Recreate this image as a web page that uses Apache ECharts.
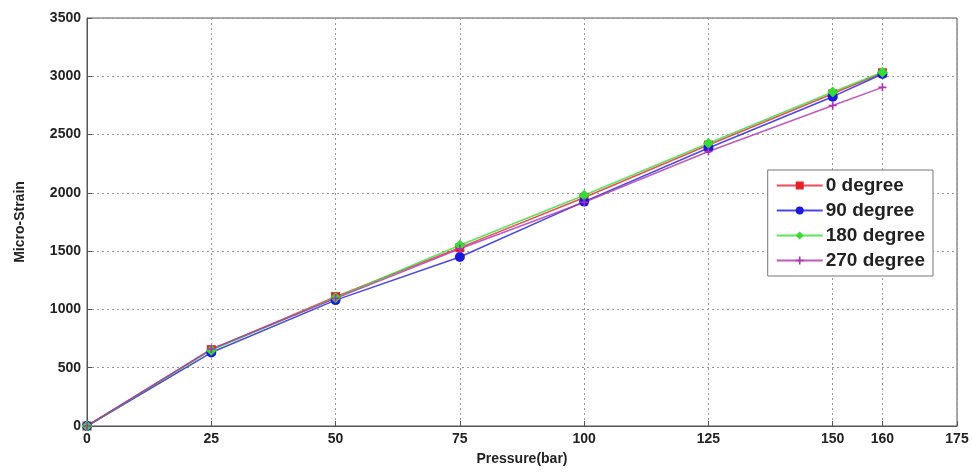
<!DOCTYPE html>
<html>
<head>
<meta charset="utf-8">
<script src="https://cdn.jsdelivr.net/npm/echarts@6/dist/echarts.min.js"></script>
<style>
  html, body { margin: 0; padding: 0; background: #fff; }
  #chart { width: 972px; height: 472px; }
</style>
</head>
<body>
<div id="chart"></div>
<script>
const pressure = [0, 25, 50, 75, 100, 125, 150, 160];
const deg0 = [0, 655, 1110, 1530, 1960, 2410, 2850, 3030];
const deg90 = [0, 630, 1080, 1450, 1925, 2385, 2825, 3020];
const deg180 = [0, 650, 1100, 1550, 1980, 2425, 2865, 3035];
const deg270 = [0, 660, 1095, 1520, 1920, 2355, 2750, 2905];
const xTicks = [0, 25, 50, 75, 100, 125, 150, 160, 175];
const yTicks = [0, 500, 1000, 1500, 2000, 2500, 3000, 3500];

const pairs = arr => pressure.map((p, i) => [p, arr[i]]);

const chart = echarts.init(document.getElementById('chart'));
const labelStyle = { color: '#222', fontSize: 14, fontWeight: 'bold', fontFamily: 'Liberation Sans, Arial' };
const mk = (name, data, color, symbol, size) => ({
  name: name,
  type: 'line',
  data: pairs(data),
  symbol: symbol,
  symbolSize: size,
  lineStyle: { color: color, width: 1.5, opacity: 0.8 },
  itemStyle: { color: color },
  z: 3
});

chart.setOption({
  animation: false,
  grid: { left: 87, right: 15, top: 18, bottom: 46, show: true, borderColor: '#555', borderWidth: 1 },
  legend: {
    orient: 'vertical',
    right: 39,
    top: 170,
    itemGap: 6,
    itemWidth: 46,
    itemHeight: 10,
    backgroundColor: '#fff',
    borderColor: '#777',
    borderWidth: 1,
    padding: [6, 8, 6, 8],
    textStyle: { color: '#222', fontSize: 19, fontWeight: 'bold', fontFamily: 'Liberation Sans, Arial', padding: [0, 0, 0, -2] },
    data: ['0 degree', '90 degree', '180 degree', '270 degree']
  },
  xAxis: {
    type: 'value',
    min: 0,
    max: 175,
    name: 'Pressure(bar)',
    nameLocation: 'middle',
    nameGap: 26,
    nameTextStyle: labelStyle,
    axisLine: { lineStyle: { color: '#555' } },
    axisTick: { inside: true, length: 5, customValues: xTicks, lineStyle: { color: '#555' } },
    axisLabel: { customValues: xTicks, margin: 6, ...labelStyle },
    splitLine: { show: true, lineStyle: { color: '#999', type: [2, 3] } }
  },
  yAxis: {
    type: 'value',
    min: 0,
    max: 3500,
    interval: 500,
    name: 'Micro-Strain',
    nameLocation: 'middle',
    nameGap: 60,
    nameTextStyle: labelStyle,
    axisLine: { show: true, lineStyle: { color: '#555' } },
    axisTick: { show: true, inside: true, length: 5, customValues: yTicks, lineStyle: { color: '#555' } },
    axisLabel: { margin: 6, customValues: yTicks, formatter: v => String(v), ...labelStyle },
    splitLine: { show: true, lineStyle: { color: '#999', type: [2, 3] } }
  },
  series: [
    mk('0 degree', deg0, '#e8202a', 'rect', 9),
    mk('90 degree', deg90, '#1a1adf', 'circle', 10),
    mk('180 degree', deg180, '#33dd33', 'diamond', 11),
    mk('270 degree', deg270, '#b030b0', 'path://M4,0h2v4h4v2h-4v4h-2v-4h-4v-2h4z', 8)
  ]
});
</script>
</body>
</html>
